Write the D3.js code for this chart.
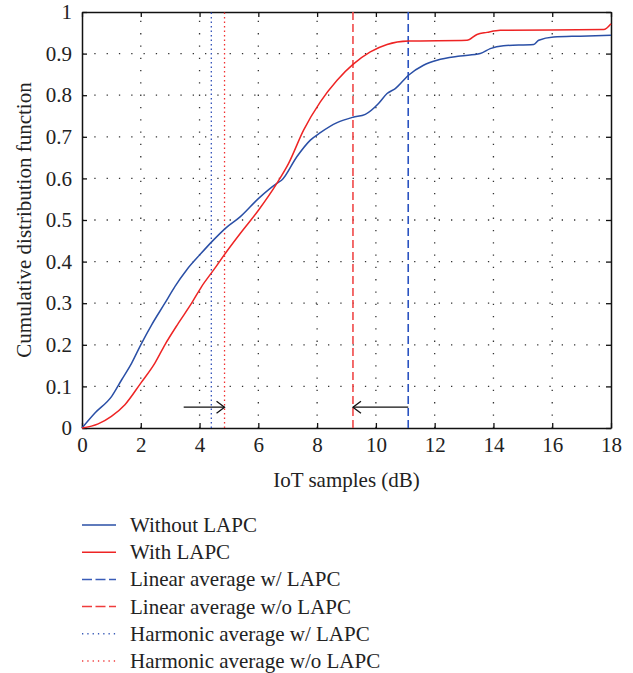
<!DOCTYPE html>
<html>
<head>
<meta charset="utf-8">
<script src="https://cdn.jsdelivr.net/npm/d3@7"></script>
<style>
	body { margin: 0; background: #fff; }
	text { font-family: 'Liberation Serif', 'DejaVu Serif', serif; fill: #222; }
</style>
</head>
<body>
<div id="container"></div>
<script>
// CDF of IoT samples
let blueX = [0, 0.44, 1.01, 1.35, 1.69, 2.0, 2.37, 2.82, 3.16, 3.56, 4.03, 4.42, 4.88, 5.39, 6.01, 6.63, 6.8, 7.31, 7.77, 8.11, 8.68, 9.22, 9.64, 10.09, 10.38, 10.66, 11.11, 11.62, 12.08, 12.87, 13.55, 13.89, 14.34, 15.37, 15.54, 16.05, 16.95, 18];
let blueY = [0, 0.036, 0.076, 0.116, 0.156, 0.2, 0.248, 0.3, 0.34, 0.38, 0.418, 0.448, 0.48, 0.508, 0.552, 0.588, 0.596, 0.652, 0.692, 0.71, 0.734, 0.747, 0.754, 0.78, 0.804, 0.816, 0.848, 0.872, 0.884, 0.894, 0.9, 0.912, 0.919, 0.922, 0.932, 0.94, 0.942, 0.944];
let redX = [0, 0.55, 1.0, 1.46, 2.0, 2.48, 2.82, 3.28, 3.73, 4.07, 4.48, 4.88, 5.39, 6.01, 6.63, 7.03, 7.54, 8.11, 8.68, 9.22, 9.81, 10.38, 11.11, 13.1, 13.44, 13.78, 14.23, 17.75, 18];
let redY = [0, 0.01, 0.028, 0.056, 0.108, 0.156, 0.2, 0.252, 0.3, 0.34, 0.38, 0.42, 0.468, 0.524, 0.588, 0.636, 0.716, 0.784, 0.836, 0.874, 0.904, 0.922, 0.93, 0.932, 0.946, 0.951, 0.956, 0.958, 0.972];

// averages (dB): linear w/ LAPC, linear w/o LAPC, harmonic w/ LAPC, harmonic w/o LAPC
let avgX = [11.1, 9.22, 4.4, 4.85];
let xTicks = [0, 2, 4, 6, 8, 10, 12, 14, 16, 18];
let yTicks = [0, 0.1, 0.2, 0.3, 0.4, 0.5, 0.6, 0.7, 0.8, 0.9, 1];
let legendLabels = ['Without LAPC', 'With LAPC', 'Linear average w/ LAPC', 'Linear average w/o LAPC', 'Harmonic average w/ LAPC', 'Harmonic average w/o LAPC'];

let options = {
	width: 633,
	height: 673,
	left: 82,
	right: 611,
	top: 12,
	bottom: 428,
	blue: '#2a4fa6',
	red: '#ee2424',
	font: 21,
};

let svg = d3.select('#container')
	.append('svg')
	.attr('width', options.width)
	.attr('height', options.height);

let x = d3.scaleLinear().domain([0, 18]).range([options.left, options.right]);
let y = d3.scaleLinear().domain([0, 1]).range([options.bottom, options.top]);

// dotted grid
let grid = svg.append('g')
	.attr('stroke', '#333')
	.attr('stroke-width', 1.3)
	.attr('stroke-dasharray', '1.3,11');
grid.selectAll('.gx')
	.data(xTicks.slice(1, -1))
	.enter()
	.append('line')
	.attr('x1', (d) => x(d)).attr('x2', (d) => x(d))
	.attr('y1', options.bottom).attr('y2', options.top);
grid.selectAll('.gy')
	.data(yTicks.slice(1, -1))
	.enter()
	.append('line')
	.attr('y1', (d) => y(d)).attr('y2', (d) => y(d))
	.attr('x1', options.left).attr('x2', options.right);

// axes with inward ticks
let tickLen = 5;
svg.append('g')
	.attr('transform', 'translate(0,' + options.bottom + ')')
	.call(d3.axisBottom(x).tickValues(xTicks).tickSizeInner(-tickLen).tickSizeOuter(0).tickPadding(9).tickFormat(d3.format('d')));
svg.append('g')
	.attr('transform', 'translate(0,' + options.top + ')')
	.call(d3.axisTop(x).tickValues(xTicks).tickSizeInner(-tickLen).tickSizeOuter(0).tickFormat(''));
svg.append('g')
	.attr('transform', 'translate(' + options.left + ',0)')
	.call(d3.axisLeft(y).tickValues(yTicks).tickSizeInner(-tickLen).tickSizeOuter(0).tickPadding(10).tickFormat((d) => d3.format('')(+d.toFixed(1))));
svg.append('g')
	.attr('transform', 'translate(' + options.right + ',0)')
	.call(d3.axisRight(y).tickValues(yTicks).tickSizeInner(-tickLen).tickSizeOuter(0).tickFormat(''));

svg.selectAll('.domain').attr('stroke', '#111').attr('stroke-width', 1.5);
svg.selectAll('.tick line').attr('stroke', '#111').attr('stroke-width', 1.3);
svg.selectAll('.tick text')
	.attr('font-size', options.font)
	.attr('font-family', "'Liberation Serif', serif")
	.attr('fill', '#222');

// vertical average lines
let avgStyle = [
	{ color: '#2a52c0', dash: '8,4' },
	{ color: '#f04848', dash: '8,4' },
	{ color: '#3050b8', dash: '1.5,3' },
	{ color: '#f03030', dash: '1.5,3' },
];
svg.selectAll('.avg')
	.data(avgX)
	.enter()
	.append('line')
	.attr('x1', (d) => x(d)).attr('x2', (d) => x(d))
	.attr('y1', options.bottom).attr('y2', options.top)
	.attr('stroke', (d, i) => avgStyle[i].color)
	.attr('stroke-width', (d, i) => (i < 2 ? 1.6 : 1.3))
	.attr('stroke-dasharray', (d, i) => avgStyle[i].dash);

// CDF curves
let line = d3.line()
	.x((d) => x(d[0]))
	.y((d) => y(d[1]))
	.curve(d3.curveMonotoneX);

svg.append('path')
	.datum(blueX.map((v, i) => [v, blueY[i]]))
	.attr('d', line)
	.attr('fill', 'none')
	.attr('stroke', options.blue)
	.attr('stroke-width', 1.5);
svg.append('path')
	.datum(redX.map((v, i) => [v, redY[i]]))
	.attr('d', line)
	.attr('fill', 'none')
	.attr('stroke', options.red)
	.attr('stroke-width', 1.5);

// arrows from harmonic / linear averages
function arrow(x0, x1, yv) {
	let g = svg.append('g').attr('stroke', '#111').attr('stroke-width', 1.3).attr('fill', 'none');
	let dir = x1 > x0 ? 1 : -1;
	g.append('line')
		.attr('x1', x(x0)).attr('x2', x(x1))
		.attr('y1', y(yv)).attr('y2', y(yv));
	g.append('path')
		.attr('d', 'M' + (x(x1) - dir * 8) + ',' + (y(yv) - 6) + 'L' + x(x1) + ',' + y(yv) + 'L' + (x(x1) - dir * 8) + ',' + (y(yv) + 6));
}
arrow(3.46, 4.85, 0.05);
arrow(11.1, 9.22, 0.05);

// axis titles
svg.append('text')
	.attr('x', (options.left + options.right) / 2)
	.attr('y', 487)
	.attr('text-anchor', 'middle')
	.attr('font-size', options.font)
	.text('IoT samples (dB)');
svg.append('text')
	.attr('transform', 'translate(31,' + (options.top + options.bottom) / 2 + ') rotate(-90)')
	.attr('text-anchor', 'middle')
	.attr('font-size', options.font)
	.text('Cumulative distribution function');

// legend
let legendStyle = [
	{ color: options.blue, dash: null },
	{ color: options.red, dash: null },
	{ color: '#3a5cb8', dash: '10,3.5' },
	{ color: '#f03c3c', dash: '10,3.5' },
	{ color: '#3a5cb8', dash: '1.3,4' },
	{ color: '#f03c3c', dash: '1.3,4' },
];
let legend = svg.selectAll('.legend')
	.data(legendLabels)
	.enter()
	.append('g')
	.attr('transform', (d, i) => 'translate(82,' + (525 + i * 27.2) + ')');
legend.append('line')
	.attr('x1', 0).attr('x2', 34)
	.attr('stroke', (d, i) => legendStyle[i].color)
	.attr('stroke-width', 1.5)
	.attr('stroke-dasharray', (d, i) => legendStyle[i].dash);
legend.append('text')
	.attr('x', 48)
	.attr('y', 7)
	.attr('font-size', options.font)
	.text((d) => d);
</script>
</body>
</html>
